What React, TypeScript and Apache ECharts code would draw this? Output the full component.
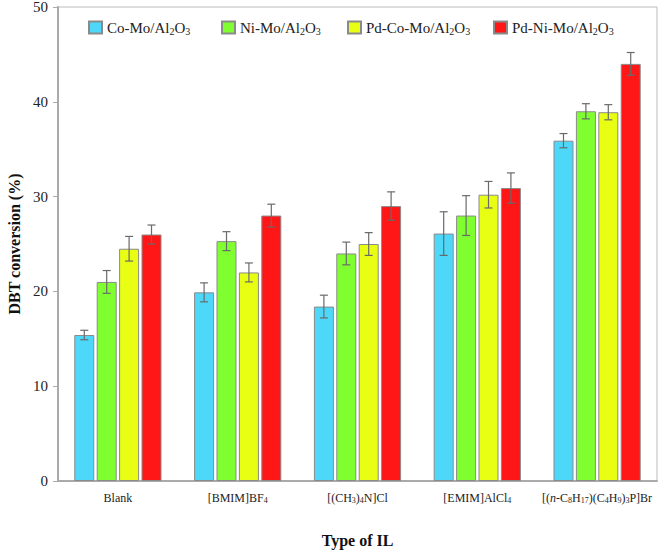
import React, { useEffect, useRef } from "react";
import * as echarts from "echarts";

const categories = ["Blank", "[BMIM]BF{s|4}", "[(CH{s|3}){s|4}N]Cl", "[EMIM]AlCl{s|4}", "[({i|n}-C{s|8}H{s|17})(C{s|4}H{s|9}){s|3}P]Br"];
const seriesNames = ["Co-Mo/Al2O3", "Ni-Mo/Al2O3", "Pd-Co-Mo/Al2O3", "Pd-Ni-Mo/Al2O3"];
const legendLabels = ["Co-Mo/Al{s|2}O{s|3}", "Ni-Mo/Al{s|2}O{s|3}", "Pd-Co-Mo/Al{s|2}O{s|3}", "Pd-Ni-Mo/Al{s|2}O{s|3}"];
const coMo = [15.4, 19.9, 18.4, 26.1, 35.9];
const niMo = [21.0, 25.3, 24.0, 28.0, 39.0];
const pdCoMo = [24.5, 22.0, 25.0, 30.2, 38.9];
const pdNiMo = [26.0, 28.0, 29.0, 30.9, 44.0];
const coMoErr = [0.5, 1.0, 1.2, 2.3, 0.75];
const niMoErr = [1.2, 1.0, 1.2, 2.1, 0.8];
const pdCoMoErr = [1.3, 1.0, 1.2, 1.4, 0.8];
const pdNiMoErr = [1.0, 1.2, 1.5, 1.6, 1.2];
const yTicks = [0, 10, 20, 30, 40, 50];

const colors = ["#4DD8FA", "#80FF30", "#E8FF14", "#FF1616"];
const values = [coMo, niMo, pdCoMo, pdNiMo];
const errors = [coMoErr, niMoErr, pdCoMoErr, pdNiMoErr];
const legendLefts = [88, 221, 347, 493];

const BAR_FRAC = 0.167;
const GAP_FRAC = 0.12;
const FONT = "'Liberation Serif', 'Times New Roman', serif";

export default function App() {
  const ref = useRef<HTMLDivElement>(null);
  useEffect(() => {
    if (!ref.current) return;
    const chart = echarts.init(ref.current, undefined, { renderer: "svg" });
    const barSeries = seriesNames.map((name, si) => ({
      name,
      type: "bar",
      data: values[si],
      barWidth: (BAR_FRAC * 100).toFixed(1) + "%",
      barGap: (GAP_FRAC * 100) + "%",
      itemStyle: { color: colors[si], borderColor: "#8a8a8a", borderWidth: 1 },
      z: 2,
    }));
    const errSeries = seriesNames.map((name, si) => ({
      name: "err-" + name,
      type: "custom",
      z: 5,
      data: values[si].map((v, i) => [i, v, errors[si][i]]),
      encode: { x: 0, y: 1 },
      renderItem: (params: any, api: any) => {
        const ci = api.value(0);
        const v = api.value(1);
        const e = api.value(2);
        const band = api.size([1, 0])[0];
        const bw = band * BAR_FRAC;
        const gap = bw * GAP_FRAC;
        const total = 4 * bw + 3 * gap;
        const off = -total / 2 + bw / 2 + si * (bw + gap);
        const hi = api.coord([ci, v + e]);
        const lo = api.coord([ci, v - e]);
        const x = hi[0] + off;
        const cap = 4;
        const style = { stroke: "#6a6a6a", lineWidth: 1.2 };
        return {
          type: "group",
          children: [
            { type: "line", shape: { x1: x, y1: hi[1], x2: x, y2: lo[1] }, style },
            { type: "line", shape: { x1: x - cap, y1: hi[1], x2: x + cap, y2: hi[1] }, style },
            { type: "line", shape: { x1: x - cap, y1: lo[1], x2: x + cap, y2: lo[1] }, style },
          ],
        };
      },
    }));
    const subRich = {
      s: { fontSize: 8, fontFamily: FONT, color: "#222", verticalAlign: "bottom", lineHeight: 8, padding: [6, 0, 0, 0] },
      i: { fontSize: 12, fontFamily: FONT, color: "#222", fontStyle: "italic" },
    };
    const legends = seriesNames.map((name, si) => ({
      data: [name],
      left: legendLefts[si],
      top: 20,
      padding: 0,
      itemWidth: 13,
      itemHeight: 12,
      itemGap: 0,
      itemTextGap: 7,
      icon: "rect",
      formatter: () => legendLabels[si],
      textStyle: {
        fontFamily: FONT,
        fontSize: 15,
        color: "#222",
        rich: {
          s: { fontSize: 10, fontFamily: FONT, color: "#222", verticalAlign: "bottom", padding: [7, 0, 0, 0] },
        },
      },
    }));
    chart.setOption({
      animation: false,
      backgroundColor: "#fff",
      textStyle: { fontFamily: FONT },
      grid: { left: 58, right: 4, top: 7, bottom: 70, show: true, borderColor: "#bbb", borderWidth: 1, outerBoundsMode: "none", containLabel: false },
      legend: legends,
      xAxis: {
        type: "category",
        data: categories,
        axisLine: { lineStyle: { color: "#aaa", width: 2 } },
        axisTick: { show: false },
        axisLabel: {
          interval: 0,
          margin: 11,
          fontFamily: FONT,
          fontSize: 12,
          color: "#222",
          rich: subRich,
        },
        name: "Type of IL",
        nameLocation: "middle",
        nameGap: 51,
        nameTextStyle: { fontFamily: FONT, fontWeight: "bold", fontSize: 16, color: "#111" },
      },
      yAxis: {
        type: "value",
        min: yTicks[0],
        max: yTicks[yTicks.length - 1],
        interval: 10,
        axisLine: { show: true, lineStyle: { color: "#aaa", width: 2 } },
        axisTick: { show: true, length: 5, lineStyle: { color: "#aaa" } },
        splitLine: { show: false },
        axisLabel: { fontFamily: FONT, fontSize: 15, color: "#222", margin: 10 },
        name: "DBT conversion (%)",
        nameLocation: "middle",
        nameGap: 36,
        nameTextStyle: { fontFamily: FONT, fontWeight: "bold", fontSize: 16, color: "#111" },
      },
      series: [...barSeries, ...errSeries],
    });
    return () => chart.dispose();
  }, []);
  return <div ref={ref} style={{ width: 661, height: 551, position: "absolute", left: 0, top: 0 }} />;
}
